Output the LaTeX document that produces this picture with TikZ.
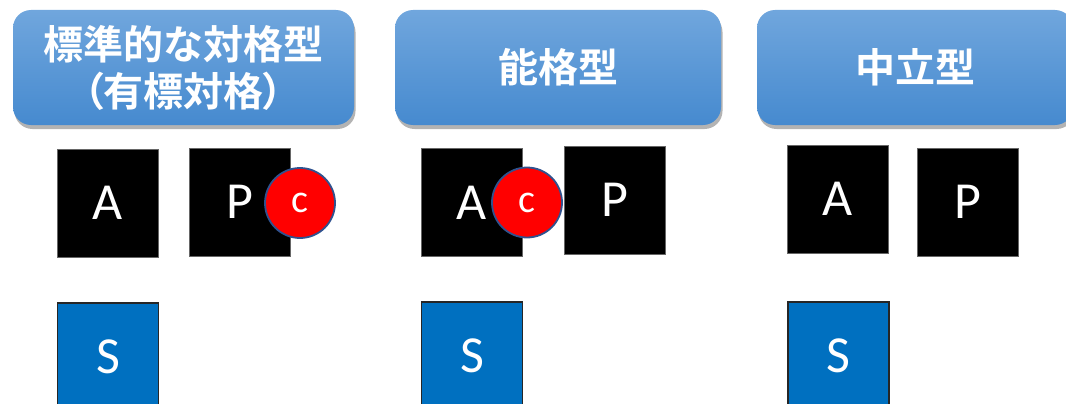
\documentclass[tikz,border=0pt]{standalone}
\usepackage{fontspec}
\setmainfont{Carlito}
\newfontfamily\cjk{Noto Sans CJK JP}[UprightFont=* Bold]
\usetikzlibrary{shadows}
\definecolor{hdtop}{RGB}{112,166,221}
\definecolor{hdbot}{RGB}{70,138,207}
\definecolor{sblue}{RGB}{0,112,192}
\definecolor{cborder}{RGB}{47,82,143}
\begin{document}
\begin{tikzpicture}[x=1pt,y=-1pt,
  header/.style={rounded corners=18pt, top color=hdtop, bottom color=hdbot,
    minimum height=115pt, text=white, align=center, inner sep=0pt,
    font=\cjk\fontsize{40}{47}\selectfont,
    drop shadow={opacity=0.6, shadow xshift=1.5pt, shadow yshift=-4pt}},
  blk/.style={fill=black, draw=gray!80!black, line width=0.8pt,
    minimum width=101pt, minimum height=108pt, inner sep=0pt,
    text=white, font=\fontsize{52}{52}\selectfont},
  sbox/.style={blk, fill=sblue, draw=black!85, line width=1.2pt},
  cmark/.style={circle, fill=red, draw=cborder, line width=1.8pt,
    minimum size=70pt, inner sep=0pt, text=white,
    font=\fontsize{40}{40}\selectfont}]
\useasboundingbox (0,0) rectangle (1066,404);
\clip (0,0) rectangle (1066,404);
% headers
\node[header, minimum width=341pt] (h1) at (183.5,67.5)
  {標準的な対格型\\{\addfontfeature{RawFeature=+palt}（有標対格）}};
\node[header, minimum width=326pt] (h2) at (558,67.5) {能格型};
\node[header, minimum width=316pt] (h3) at (915,67.5) {中立型};
% accusative
\node[blk] (a1) at (107.5,203) {A};
\node[blk] (p1) at (240,202) {P};
\node[cmark] (c1) at (300,203) {c};
\node[sbox] (s1) at (108,357) {S};
% ergative
\node[blk] (a2) at (472,202.5) {A};
\node[cmark] (c2) at (527,202.5) {c};
\node[blk] (p2) at (614.5,200) {P};
\node[sbox] (s2) at (472,356) {S};
% neutral
\node[blk] (a3) at (838,199) {A};
\node[blk] (p3) at (968,202) {P};
\node[sbox] (s3) at (838.5,356) {S};
\end{tikzpicture}
\end{document}
